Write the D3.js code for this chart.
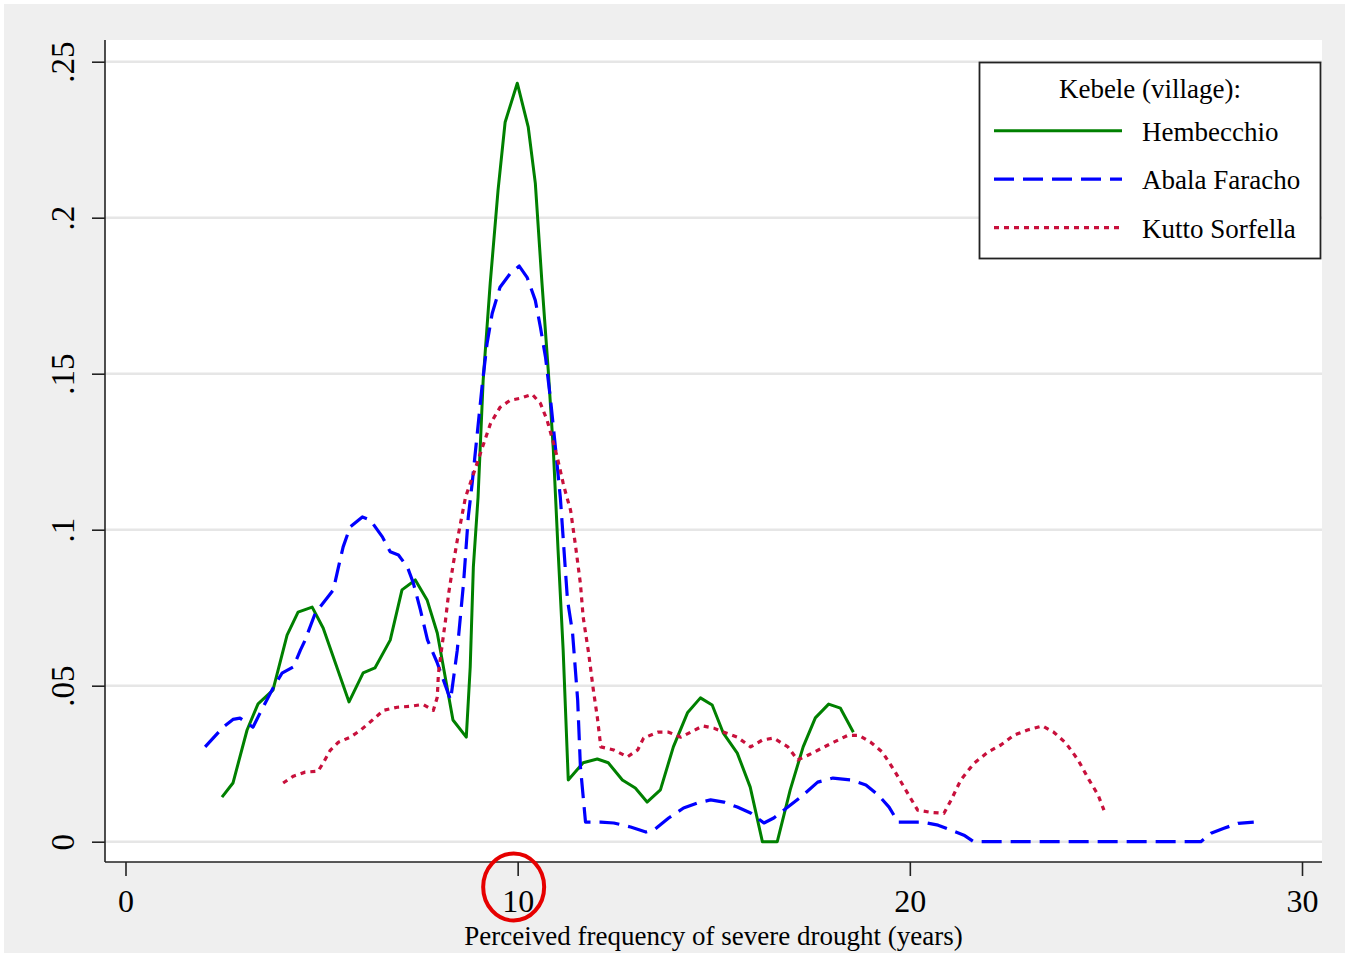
<!DOCTYPE html>
<html lang="en">
<head>
    <meta charset="UTF-8">
    <title>Perceived frequency of severe drought</title>
    <script src="https://d3js.org/d3.v7.min.js"></script>
    <style>
        body {
            margin: 0;
            background: #fff;
        }
        svg text {
            font-family: "Liberation Serif", "Times New Roman", serif;
            fill: #000;
        }
        .grid line {
            stroke: #e6e6e6;
            stroke-width: 2.5px;
        }
    </style>
</head>
<body>
    <svg id="chart" width="1345" height="953"></svg>

    <script>
        // density estimates: [years, density]
        const hembecchio = [
            [2.46,.0143],[2.74,.0188],[3.10,.0358],[3.38,.0442],[3.76,.0486],[4.12,.0662],[4.40,.0736],
            [4.76,.0752],[5.04,.0685],[5.70,.0448],[6.06,.0541],[6.36,.0557],[6.75,.0646],[7.05,.0807],
            [7.39,.0839],[7.69,.0775],[7.95,.0669],[8.35,.0390],[8.69,.0335],[8.79,.0560],[8.87,.0880],
            [8.99,.1104],[9.12,.1479],[9.30,.1790],[9.50,.2088],[9.68,.2306],[9.99,.2431],[10.27,.2290],
            [10.45,.2111],[10.62,.1790],[10.78,.1511],[10.91,.1255],[11.03,.0935],[11.16,.0614],[11.29,.0198],
            [11.67,.0253],[12.03,.0265],[12.31,.0253],[12.67,.0198],[13.00,.0172],[13.30,.0127],[13.64,.0166],
            [13.97,.0304],[14.33,.0413],[14.66,.0461],[14.96,.0438],[15.24,.0349],[15.60,.0284],[15.93,.0175],
            [16.24,0],[16.62,0],[16.95,.0166],[17.28,.0304],[17.59,.0397],[17.93,.0441],[18.23,.0428],[18.56,.0351]
        ];
        const abalaFaracho = [
            [2.03,.0304],[2.49,.0367],[2.74,.0392],[2.92,.0396],[3.25,.0367],[3.43,.0412],[3.76,.0492],
            [3.99,.0540],[4.28,.0560],[4.46,.0614],[4.58,.0646],[4.84,.0733],[5.04,.0765],[5.30,.0807],
            [5.43,.0880],[5.55,.0945],[5.73,.1009],[6.04,.1041],[6.24,.1031],[6.55,.0977],[6.75,.0929],
            [6.96,.0919],[7.19,.0880],[7.34,.0829],[7.52,.0743],[7.70,.0647],[7.95,.0573],[8.29,.0454],
            [8.46,.0614],[8.62,.0829],[8.74,.1040],[8.84,.1149],[8.97,.1309],[9.10,.1469],[9.22,.1597],
            [9.35,.1693],[9.55,.1777],[9.81,.1821],[10.04,.1845],[10.24,.1809],[10.45,.1735],[10.58,.1649],
            [10.71,.1553],[10.84,.1415],[10.97,.1255],[11.09,.1100],[11.27,.0775],[11.40,.0669],[11.53,.0454],
            [11.60,.0240],[11.73,.0063],[12.12,.0063],[12.45,.0060],[12.88,.0047],[13.27,.0031],[13.47,.0037],
            [13.85,.0076],[14.23,.0108],[14.58,.0124],[14.92,.0134],[15.26,.0127],[15.60,.0111],[15.94,.0092],
            [16.28,.0060],[16.53,.0076],[16.89,.0111],[17.22,.0143],[17.65,.0191],[18.04,.0204],[18.50,.0198],
            [18.88,.0182],[19.19,.0150],[19.47,.0111],[19.70,.0063],[20.30,.0063],[20.72,.0053],[21.05,.0037],
            [21.38,.0021],[21.63,0],[27.42,0],[27.68,.0027],[28.01,.0043],[28.37,.0059],[28.77,.0063]
        ];
        const kuttoSorfella = [
            [4.02,.0188],[4.28,.0210],[4.58,.0223],[4.91,.0226],[5.04,.0252],[5.22,.0293],[5.43,.0319],
            [5.73,.0335],[5.99,.0357],[6.29,.0389],[6.58,.0421],[6.93,.0431],[7.26,.0434],[7.59,.0440],
            [7.85,.0421],[7.95,.0463],[7.98,.0540],[8.08,.0636],[8.16,.0710],[8.24,.0796],[8.36,.0892],
            [8.46,.0966],[8.59,.1052],[8.67,.1104],[8.88,.1181],[9.10,.1264],[9.31,.1341],[9.55,.1392],
            [9.81,.1415],[10.06,.1421],[10.37,.1434],[10.58,.1405],[10.75,.1351],[10.88,.1293],[11.01,.1232],
            [11.16,.1149],[11.22,.1120],[11.35,.1062],[11.48,.0944],[11.60,.0827],[11.67,.0720],[11.81,.0604],
            [11.93,.0486],[12.03,.0400],[12.12,.0304],[12.45,.0294],[12.80,.0272],[13.06,.0294],[13.21,.0332],
            [13.57,.0351],[13.85,.0351],[14.16,.0335],[14.41,.0351],[14.72,.0371],[15.00,.0364],[15.26,.0351],
            [15.60,.0335],[15.94,.0304],[16.24,.0326],[16.53,.0332],[16.89,.0304],[17.14,.0262],[17.40,.0277],
            [17.73,.0298],[18.06,.0319],[18.42,.0341],[18.70,.0341],[19.00,.0319],[19.30,.0287],[19.60,.0229],
            [19.95,.0154],[20.20,.0101],[20.54,.0094],[20.87,.0091],[21.05,.0133],[21.30,.0198],[21.64,.0252],
            [21.99,.0287],[22.32,.0310],[22.66,.0342],[23.00,.0358],[23.38,.0371],[23.67,.0351],[23.98,.0316],
            [24.29,.0262],[24.57,.0198],[24.80,.0150],[24.95,.0101]
        ];

        const xTicks = [0, 10, 20, 30];
        const yTicks = [0, .05, .1, .15, .2, .25];
        const yTickLabels = ["0", ".05", ".1", ".15", ".2", ".25"];
        const seriesNames = ["Hembecchio", "Abala Faracho", "Kutto Sorfella"];
        const legendTitle = "Kebele (village):";
        const xTitle = "Perceived frequency of severe drought (years)";
        const highlightTick = 10;

        const series = [
            {name: seriesNames[0], values: hembecchio, color: "#008000", width: 3, dash: null},
            {name: seriesNames[1], values: abalaFaracho, color: "#0000ff", width: 3.2, dash: "20,9"},
            {name: seriesNames[2], values: kuttoSorfella, color: "#c8103c", width: 3.2, dash: "5,5"}
        ];

        const plot = {left: 105, right: 1322, top: 40, bottom: 862};

        const x = d3.scaleLinear().domain([0, 30]).range([125.5, 1302]);
        const y = d3.scaleLinear().domain([0, .25]).range([841.7, 61.7]);

        const svg = d3.select("#chart");

        // outer graph region + plot region
        svg.append("rect").attr("x", 4).attr("y", 4).attr("width", 1341).attr("height", 949).attr("fill", "#efefef");
        svg.append("rect")
            .attr("x", plot.left).attr("y", plot.top)
            .attr("width", plot.right - plot.left).attr("height", plot.bottom - plot.top)
            .attr("fill", "#fff");

        // horizontal grid
        svg.append("g").attr("class", "grid")
            .selectAll("line")
            .data(yTicks)
            .enter().append("line")
            .attr("x1", plot.left).attr("x2", plot.right)
            .attr("y1", d => y(d)).attr("y2", d => y(d));

        // curves
        const line = d3.line().x(d => x(d[0])).y(d => y(d[1]));
        series.forEach(s => {
            svg.append("path")
                .datum(s.values)
                .attr("d", line)
                .attr("fill", "none")
                .attr("stroke", s.color)
                .attr("stroke-width", s.width)
                .attr("stroke-linejoin", "round")
                .attr("stroke-dasharray", s.dash);
        });

        // y axis
        const yAxis = d3.axisLeft(y).tickValues(yTicks).tickSize(13).tickPadding(0).tickFormat((d, i) => yTickLabels[i]);
        const gy = svg.append("g").attr("transform", `translate(${plot.left},0)`).call(yAxis);
        gy.select(".domain").attr("d", `M0,${plot.top}V${plot.bottom}`).attr("stroke", "#222").attr("stroke-width", 1.6);
        gy.selectAll(".tick line").attr("stroke", "#222").attr("stroke-width", 1.6);
        gy.selectAll(".tick text")
            .attr("x", 0).attr("y", 0).attr("dy", null)
            .attr("transform", "translate(-31,0) rotate(-90)")
            .attr("text-anchor", "middle")
            .style("font-size", "33px");

        // x axis
        const xAxis = d3.axisBottom(x).tickValues(xTicks).tickSize(14).tickPadding(0).tickFormat(d3.format("d"));
        const gx = svg.append("g").attr("transform", `translate(0,${plot.bottom})`).call(xAxis);
        gx.select(".domain").attr("d", `M${plot.left},0H${plot.right}`).attr("stroke", "#222").attr("stroke-width", 1.6);
        gx.selectAll(".tick line").attr("stroke", "#222").attr("stroke-width", 1.6);
        gx.selectAll(".tick text")
            .attr("y", 50).attr("dy", null)
            .style("font-size", "32px");

        svg.append("text")
            .attr("x", (plot.left + plot.right) / 2)
            .attr("y", 945)
            .attr("text-anchor", "middle")
            .style("font-size", "27px")
            .text(xTitle);

        // legend
        const legend = svg.append("g");
        legend.append("rect")
            .attr("x", 979.5).attr("y", 62.5).attr("width", 341).attr("height", 196)
            .attr("fill", "#fff").attr("stroke", "#222").attr("stroke-width", 1.8);
        legend.append("text")
            .attr("x", 1150).attr("y", 98)
            .attr("text-anchor", "middle")
            .style("font-size", "27px")
            .text(legendTitle);
        series.forEach((s, i) => {
            const ly = 130.7 + i * 48.5;
            legend.append("line")
                .attr("x1", 994).attr("x2", 1122)
                .attr("y1", ly).attr("y2", ly)
                .attr("stroke", s.color)
                .attr("stroke-width", s.width)
                .attr("stroke-dasharray", s.dash);
            legend.append("text")
                .attr("x", 1142).attr("y", ly + 10)
                .style("font-size", "27px")
                .text(s.name);
        });

        // red ring around the 10 tick label
        svg.append("ellipse")
            .attr("cx", x(highlightTick) - 4)
            .attr("cy", 887)
            .attr("rx", 30.5)
            .attr("ry", 33.5)
            .attr("fill", "none")
            .attr("stroke", "#e60000")
            .attr("stroke-width", 4);
    </script>
</body>
</html>
